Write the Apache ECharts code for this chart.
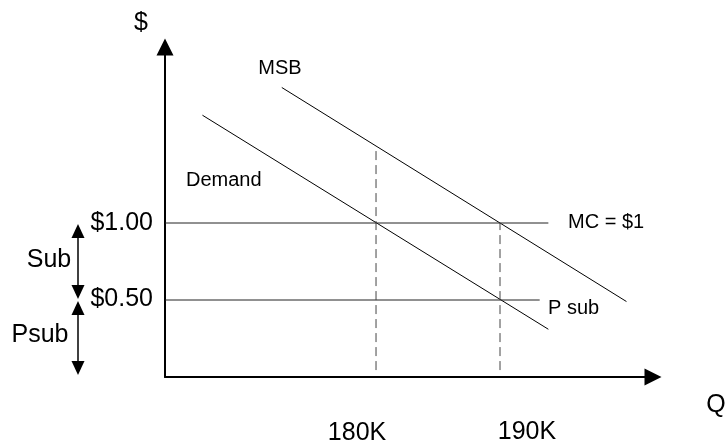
<!DOCTYPE html>
<html>
<head>
<meta charset="utf-8">
<script src="https://cdn.jsdelivr.net/npm/echarts@6/dist/echarts.min.js"></script>
<style>html,body{margin:0;padding:0;background:#fff;}#c{width:726px;height:446px;}</style>
</head>
<body>
<div id="c"></div>
<script>
// Quantity in thousands (K), price in dollars
const demandQ = [166.0, 193.9];
const demandP = [1.70, 0.31];
const msbQ = [172.4, 200.2];
const msbP = [1.88, 0.49];
const mcQ = [163.0, 193.9];
const mcP = [1.00, 1.00];
const psubQ = [163.0, 193.2];
const psubP = [0.50, 0.50];
const drop180Q = [180, 180];
const drop180P = [0.045, 1.50];
const drop190Q = [190, 190];
const drop190P = [0.045, 1.00];
const priceTicks = ['$1.00', '$0.50'];
const priceTickValues = [1.00, 0.50];
const qTicks = ['180K', '190K'];

function pts(xs, ys) { return xs.map((x, i) => [x, ys[i]]); }

const FONT = 'Liberation Sans, Arial, sans-serif';
const chart = echarts.init(document.getElementById('c'), null, {renderer: 'canvas'});

const solid = (name, xs, ys, color) => ({
  name, type: 'line', data: pts(xs, ys), symbol: 'none', silent: true,
  lineStyle: {color, width: 1}, clip: false, animation: false
});
const dashed = (name, xs, ys) => ({
  name, type: 'line', data: pts(xs, ys), symbol: 'none', silent: true,
  lineStyle: {color: '#444', width: 1, type: [9, 5]}, clip: false, animation: false
});

chart.setOption({
  animation: false,
  backgroundColor: '#fff',
  grid: {left: 165, top: 47, right: 73, bottom: 69},
  xAxis: {
    type: 'value', min: 162.98, max: 202.34,
    axisLine: {onZero: false, symbol: ['none', 'triangle'], symbolSize: [17, 17], lineStyle: {color: '#000', width: 2}},
    axisTick: {show: false}, axisLabel: {show: false}, splitLine: {show: false}
  },
  yAxis: {
    type: 'value', min: 0, max: 2.143,
    axisLine: {show: true, onZero: false, symbol: ['none', 'triangle'], symbolSize: [17, 17], lineStyle: {color: '#000', width: 2}},
    axisTick: {show: false}, axisLabel: {show: false}, splitLine: {show: false}
  },
  series: [
    solid('Demand', demandQ, demandP, '#000'),
    solid('MSB', msbQ, msbP, '#000'),
    solid('MC = $1', mcQ, mcP, '#222'),
    solid('P sub', psubQ, psubP, '#222'),
    dashed('180K', drop180Q, drop180P),
    dashed('190K', drop190Q, drop190P)
  ]
});

function px(q, p) { return chart.convertToPixel({gridIndex: 0}, [q, p]); }
function txt(text, x, y, size, align) {
  return {type: 'text', silent: true, style: {text, x, y, font: size + 'px ' + FONT, fill: '#000', align: align || 'center', verticalAlign: 'middle'}};
}
function dblArrow(x, yTop, yBot) {
  const aw = 6.5, ah = 14;
  return [
    {type: 'line', silent: true, shape: {x1: x, y1: yTop + ah - 1, x2: x, y2: yBot - ah + 1}, style: {stroke: '#000', lineWidth: 1.5}},
    {type: 'polygon', silent: true, shape: {points: [[x, yTop], [x - aw, yTop + ah], [x + aw, yTop + ah]]}, style: {fill: '#000'}},
    {type: 'polygon', silent: true, shape: {points: [[x, yBot], [x - aw, yBot - ah], [x + aw, yBot - ah]]}, style: {fill: '#000'}}
  ];
}

const p1 = px(180, 1.0), p05 = px(180, 0.5), p0 = px(180, 0);
const g180 = px(180, 0), g190 = px(190, 0);
const arrowX = 78;
const elements = [
  txt('$', 141, 23, 25),
  txt('Q', 716, 405, 25),
  txt(priceTicks[0], 153, px(180, priceTickValues[0])[1], 25, 'right'),
  txt(priceTicks[1], 153, px(180, priceTickValues[1])[1] - 1, 25, 'right'),
  txt('Sub', 49, 260, 25),
  txt('Psub', 40, 335, 25),
  txt(qTicks[0], g180[0] - 19, 433, 25),
  txt(qTicks[1], g190[0] + 27, 432, 25),
  txt('MSB', 280, 68, 20),
  txt('Demand', 186, 180, 20, 'left'),
  txt('MC = $1', 568, 222, 20, 'left'),
  txt('P sub', 548, 308, 20, 'left')
].concat(dblArrow(arrowX, p1[1] + 1, p05[1] - 1), dblArrow(arrowX, p05[1] + 1, p0[1] - 2));

chart.setOption({graphic: {elements}});
</script>
</body>
</html>
